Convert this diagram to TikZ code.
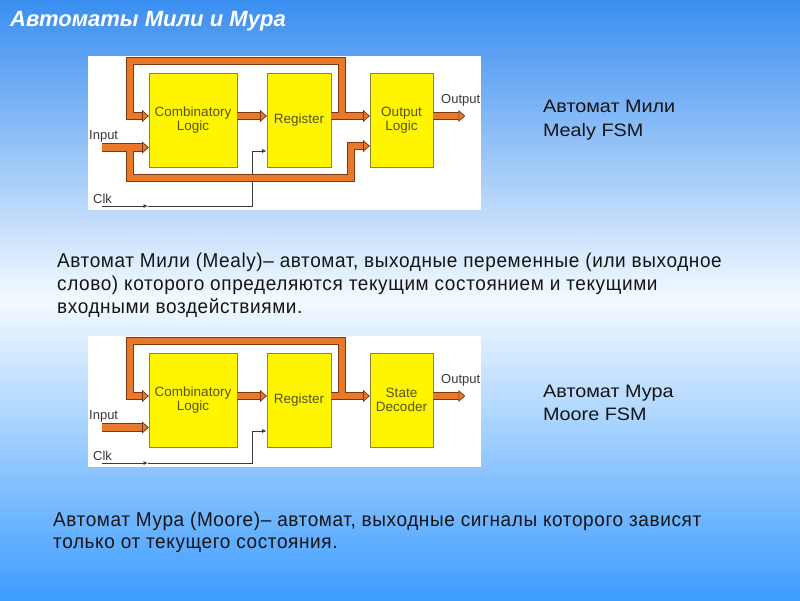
\documentclass[tikz,border=0pt]{standalone}
\usepackage{fontspec}
\setmainfont{Liberation Sans}
\newfontfamily\narrowfont[FakeStretch=0.95,LetterSpace=3]{Liberation Sans}
\newfontfamily\widefont[FakeStretch=1.1]{Liberation Sans}
\usetikzlibrary{arrows.meta,positioning,calc}
\definecolor{bgtop}{HTML}{3A8EF0}
\definecolor{bgmid}{HTML}{F4FAFF}
\definecolor{bgbot}{HTML}{3D9CFF}
\definecolor{blkc}{HTML}{FFF500}
\definecolor{blkedge}{HTML}{8A8440}
\definecolor{blktext}{HTML}{57531C}
\definecolor{busc}{HTML}{E8792A}
\definecolor{busedge}{HTML}{7D3A12}
\definecolor{labc}{HTML}{3A3A3A}
\definecolor{txtc}{HTML}{151515}
\tikzset{
  blk/.style={draw=blkedge,line width=0.7pt,fill=blkc,minimum height=94pt,inner sep=0pt,align=center,font=\fontsize{13.5}{14.5}\selectfont,text=blktext},
  bustip/.style={-{Triangle[length=6.5pt,width=11.5pt,line width=0.6pt,color=busedge,fill=busc]}},
  busout/.style={bustip,draw=busedge,line width=8.5pt},
  busin/.style={bustip,draw=busc,line width=6.5pt},
  clkline/.style={draw=labc,line width=0.8pt,-{Latex[length=4.5pt,width=4pt]}},
  lab/.style={font=\fontsize{13}{14}\selectfont,text=labc,anchor=base west,inner sep=0pt},
  side/.style={font=\widefont\fontsize{18}{20}\selectfont,text=txtc,anchor=base west,inner sep=0pt},
  body/.style={font=\narrowfont\fontsize{20}{22}\selectfont,text=txtc,anchor=base west,inner sep=0pt},
  ttl/.style={font=\bfseries\itshape\fontsize{22}{24}\selectfont,text=white,anchor=base west,inner sep=0pt},
  panel/.style={fill=white},
}
% blocks, labels and clock of one FSM: prefix, third block, clock y
\newcommand{\fsmblocks}[3]{%
  \fill[panel] (88,56) rectangle (481,#3+4);
  \node[blk,minimum width=88pt] (#1cl) at (193,120) {Combinatory\\Logic};
  \node[blk,minimum width=64pt] (#1rg) at (299,120) {Register};
  \node[blk,minimum width=63pt] (#1ou) at (401.5,120) {#2};
  \coordinate (#1j) at (342,116);
  \coordinate (#1k) at (130,61);
  \coordinate (#1ip) at (102,147.5);
  \coordinate (#1op) at (465,116);
  \coordinate (#1c0) at (102,#3);
  \coordinate (#1c1) at (148,#3);
  \coordinate (#1c2) at (252,151);
  \node[lab] (#1in) at (89,139) {Input};
  \node[lab] (#1out) at (441,103) {Output};
  \node[lab] (#1clk) at (93,#3-3) {Clk};
  \draw[clkline] (#1c0) -- (#1c1);
  \draw[clkline] (#1c1) -| (#1c2) -- (#1rg.west |- #1c2);}
% orange buses, drawn once as outline and once as fill
\newcommand{\fsmbus}[2]{%
  \draw[#2] (#1j) |- (#1k) |- (#1cl.west |- #1j);
  \draw[#2] (#1ip) -- (#1cl.west |- #1ip);
  \draw[#2] (#1cl.east |- #1j) -- (#1rg.west |- #1j);
  \draw[#2] (#1rg.east |- #1j) -- (#1ou.west |- #1j);
  \draw[#2] (#1ou.east |- #1j) -- (#1op);}

\begin{document}
\begin{tikzpicture}[x=1pt,y=-1pt]
  \useasboundingbox (0,0) rectangle (800,600);
  \fill[top color=bgtop,bottom color=bgmid] (0,0) rectangle (800,300.5);
  \fill[top color=bgmid,bottom color=bgbot] (0,300) rectangle (800,600);
  \node[ttl] (title) at (10,26) {Автоматы Мили и Мура};

  % Mealy
  \fsmblocks{m}{Output\\Logic}{206}
  \coordinate (mb) at (351,178);
  \coordinate (mc) at (351,146);
  \fsmbus{m}{busout}
  \draw[busout] (mk |- mip) |- (mb) -- (mc) -- (mou.west |- mc);
  \fsmbus{m}{busin}
  \draw[busin] (mk |- mip) |- (mb) -- (mc) -- (mou.west |- mc);
  \node[side] (mname) at (543,112) {Автомат Мили};
  \node[side] (mfsm) at (543,136) {Mealy FSM};
  \node[body] (mtxt1) at (57,267) {Автомат Мили (Mealy)– автомат, выходные переменные (или выходное};
  \node[body] (mtxt2) at (57,290) {слово) которого определяются текущим состоянием и текущими};
  \node[body] (mtxt3) at (57,313) {входными воздействиями.};

  % Moore
  \begin{scope}[shift={(0,280)}]
    \fsmblocks{s}{State\\Decoder}{183}
    \fsmbus{s}{busout}
    \fsmbus{s}{busin}
  \end{scope}
  \node[side] (sname) at (543,397) {Автомат Мура};
  \node[side] (sfsm) at (543,420) {Moore FSM};
  \node[body] (stxt1) at (53,526) {Автомат Мура (Moore)– автомат, выходные сигналы которого зависят};
  \node[body] (stxt2) at (53,548) {только от текущего состояния.};
\end{tikzpicture}
\end{document}
